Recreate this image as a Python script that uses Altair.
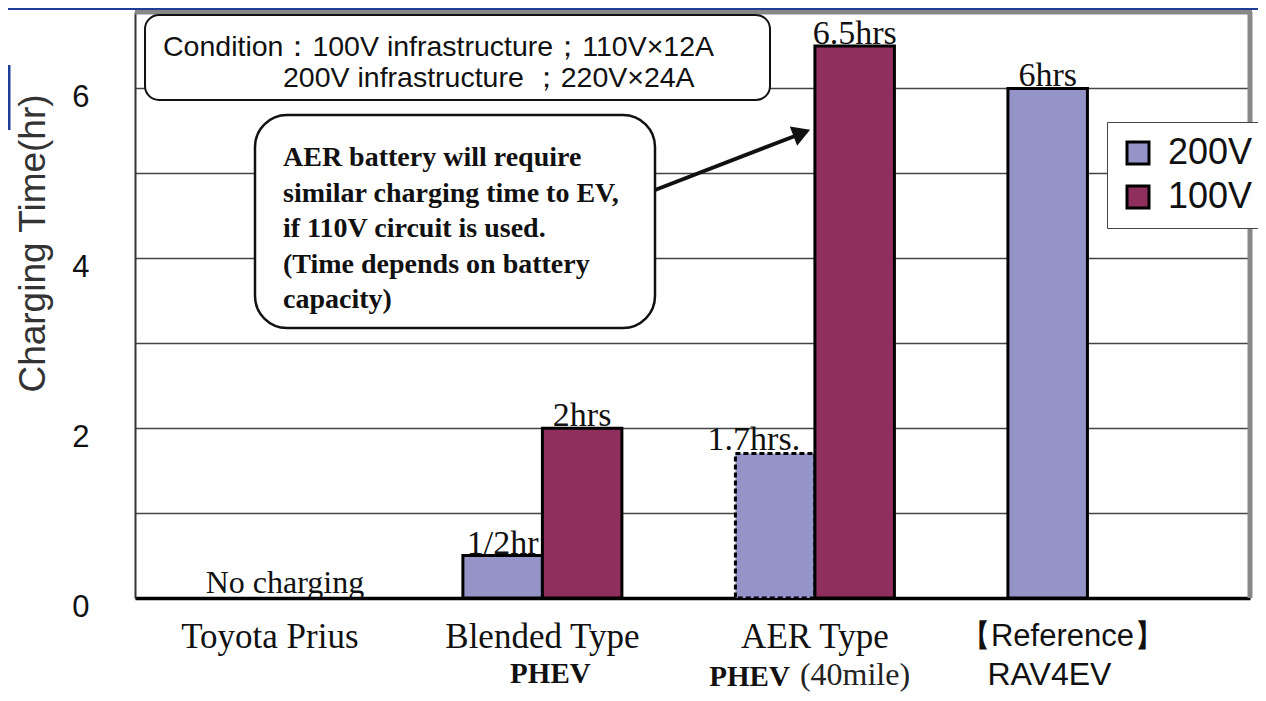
import altair as alt
import pandas as pd

# ---------------- data ----------------
groups = ["Toyota Prius", "Blended Type", "AER Type", "RAV4EV"]
series = ["200V", "100V"]
colors = ["#9494c8", "#8e2f5e"]

bar_group = ["Blended Type", "Blended Type", "AER Type", "AER Type", "RAV4EV"]
bar_series = ["200V", "100V", "200V", "100V", "200V"]
bar_hours = [0.5, 2.0, 1.7, 6.5, 6.0]
bar_labels = ["1/2hr", "2hrs", "1.7hrs.", "6.5hrs", "6hrs"]
bar_outline = ["solid", "solid", "dotted", "solid", "solid"]

name_line1 = ["Toyota Prius", "Blended Type", "AER Type", "【Reference】"]
y_ticks = [0, 1, 2, 3, 4, 5, 6]

condition_1 = "Condition：100V infrastructure；110V×12A"
condition_2 = "200V infrastructure ；220V×24A"
callout_lines = [
    "AER battery will require",
    "similar charging time to EV,",
    "if 110V circuit is used.",
    "(Time depends on battery",
    "capacity)",
]

bars_df = pd.DataFrame({
    "group": bar_group, "series": bar_series, "hours": bar_hours,
    "label": bar_labels, "outline": bar_outline,
})
names_df = pd.DataFrame({"group": groups, "line1": name_line1})
one = pd.DataFrame({"k": [0]})

W, H = 1115, 586
SERIF = "Liberation Serif"
SANS = "Liberation Sans"
L1 = 636  # baseline of first line of category names
L2 = 673  # baseline of second line of category names

xscale = alt.Scale(domain=groups, paddingInner=0.4165, paddingOuter=0.254, align=0.4)
xoff = alt.XOffset("series:N", scale=alt.Scale(domain=series, paddingInner=0, paddingOuter=0))
yscale = alt.Scale(domain=[0, 6.9], nice=False, zero=True)

bars = alt.Chart(bars_df).mark_bar(stroke="black", strokeWidth=3).encode(
    x=alt.X("group:N", scale=xscale,
            axis=alt.Axis(labels=False, ticks=False, title=None, grid=False,
                          domainColor="black", domainWidth=3.5)),
    xOffset=xoff,
    y=alt.Y("hours:Q", scale=yscale,
            axis=alt.Axis(values=y_ticks, grid=True, gridColor="#444", gridWidth=1.5,
                          ticks=False, domainColor="#333", domainWidth=2, format="d",
                          labelExpr="datum.value % 2 == 0 ? datum.label : ''",
                          labelFont=SANS, labelFontSize=31, labelColor="#111",
                          labelPadding=46, labelOffset=9,
                          title="Charging Time(hr)", titleFont=SANS, titleFontSize=37,
                          titleFontWeight="normal", titleColor="#333",
                          titleAngle=270, titleX=-102, titleY=231,
                          titleAlign="center", titleBaseline="middle")),
    color=alt.Color("series:N", scale=alt.Scale(domain=series, range=colors),
                    legend=alt.Legend(title=None, orient="none", legendX=972, legendY=110,
                                      symbolType="square", symbolSize=484,
                                      symbolStrokeColor="black", symbolStrokeWidth=3,
                                      labelFont=SANS, labelFontSize=36, labelColor="#111",
                                      labelOffset=12, rowPadding=8, padding=13,
                                      fillColor="white", strokeColor="#444")),
    strokeDash=alt.StrokeDash("outline:N",
                              scale=alt.Scale(domain=["solid", "dotted"], range=[[1, 0], [5, 3]]),
                              legend=None),
)

lab_common = dict(font=SERIF, fontSize=34, baseline="alphabetic", color="#111")
bar_text = alt.Chart(bars_df).transform_filter("datum.label != '1.7hrs.'").mark_text(
    align="center", dy=-2, **lab_common
).encode(x=alt.X("group:N", scale=xscale), xOffset=xoff, y=alt.Y("hours:Q", scale=yscale),
         text="label:N")
bar_text_r = alt.Chart(bars_df).transform_filter("datum.label == '1.7hrs.'").mark_text(
    align="right", dx=25, dy=-4, **lab_common
).encode(x=alt.X("group:N", scale=xscale), xOffset=xoff, y=alt.Y("hours:Q", scale=yscale),
         text="label:N")

no_charge = alt.Chart(names_df).transform_filter("datum.group == 'Toyota Prius'").mark_text(
    font=SERIF, fontSize=32, baseline="alphabetic", dx=15, dy=-3, color="#111"
).encode(x=alt.X("group:N", scale=xscale), y=alt.value(H - 2), text=alt.value("No charging"))

# category names below the axis
name1 = alt.Chart(names_df).transform_filter("datum.group != 'RAV4EV'").mark_text(
    font=SERIF, fontSize=35, baseline="alphabetic", color="#111"
).encode(x=alt.X("group:N", scale=xscale), y=alt.value(L1), text="line1:N")
name1_ref = alt.Chart(names_df).transform_filter("datum.group == 'RAV4EV'").mark_text(
    font=SANS, fontSize=31, baseline="alphabetic", dx=-25, color="#111"
).encode(x=alt.X("group:N", scale=xscale), y=alt.value(L1 - 2), text="line1:N")
phev_b = alt.Chart(names_df).transform_filter("datum.group == 'Blended Type'").mark_text(
    font=SERIF, fontSize=29, fontWeight="bold", baseline="alphabetic", dx=8, color="#111"
).encode(x=alt.X("group:N", scale=xscale), y=alt.value(L2 - 2), text=alt.value("PHEV"))
phev_a = alt.Chart(names_df).transform_filter("datum.group == 'AER Type'").mark_text(
    font=SERIF, fontSize=29, fontWeight="bold", baseline="alphabetic", align="right",
    dx=-25, color="#111"
).encode(x=alt.X("group:N", scale=xscale), y=alt.value(L2 + 1), text=alt.value("PHEV"))
mile_a = alt.Chart(names_df).transform_filter("datum.group == 'AER Type'").mark_text(
    font=SERIF, fontSize=32, baseline="alphabetic", align="left", dx=-15, color="#222"
).encode(x=alt.X("group:N", scale=xscale), y=alt.value(L2), text=alt.value("(40mile)"))
rav = alt.Chart(names_df).transform_filter("datum.group == 'RAV4EV'").mark_text(
    font=SANS, fontSize=32, baseline="alphabetic", dx=-38, color="#111"
).encode(x=alt.X("group:N", scale=xscale), y=alt.value(L2), text=alt.value("RAV4EV"))

# frame (top and right gray border)
top_border = alt.Chart(one).mark_rule(color="#888", strokeWidth=5).encode(
    x=alt.value(0), x2=alt.value(W + 2), y=alt.value(0))
right_border = alt.Chart(one).mark_rule(color="#888", strokeWidth=5).encode(
    x=alt.value(W), y=alt.value(0), y2=alt.value(H))

# slide decorations
blue_top = alt.Chart(one).mark_rule(color="#1f3c96", strokeWidth=2).encode(
    x=alt.value(-127), x2=alt.value(W + 8), y=alt.value(-3))
blue_left = alt.Chart(one).mark_rule(color="#1f3c96", strokeWidth=3).encode(
    x=alt.value(-126), y=alt.value(53), y2=alt.value(118))

# condition box
cond_box = alt.Chart(one).mark_rect(fill="white", stroke="#111", strokeWidth=2,
                                    cornerRadius=14).encode(
    x=alt.value(10), x2=alt.value(635), y=alt.value(3), y2=alt.value(88))
cond_t1 = alt.Chart(one).mark_text(font=SANS, fontSize=28.5, align="left", baseline="middle",
                                   color="#111").encode(
    x=alt.value(28), y=alt.value(35), text=alt.value(condition_1))
cond_t2 = alt.Chart(one).mark_text(font=SANS, fontSize=28.5, align="left", baseline="middle",
                                   color="#111").encode(
    x=alt.value(148), y=alt.value(66), text=alt.value(condition_2))

# callout box with arrow
call_box = alt.Chart(one).mark_rect(fill="white", stroke="#111", strokeWidth=2.5,
                                    cornerRadius=32).encode(
    x=alt.value(120), x2=alt.value(520), y=alt.value(103), y2=alt.value(316))
call_text = alt.Chart(one).mark_text(font=SERIF, fontSize=28, fontWeight="bold",
                                     align="left", baseline="alphabetic", lineHeight=35.5,
                                     color="#111", text=callout_lines).encode(
    x=alt.value(148), y=alt.value(154))
arrow_line = alt.Chart(one).mark_rule(color="#111", strokeWidth=4).encode(
    x=alt.value(520), y=alt.value(178), x2=alt.value(660), y2=alt.value(124))
arrow_head = alt.Chart(one).mark_point(shape="triangle", filled=True, color="#111",
                                       size=420, opacity=1, angle=69).encode(
    x=alt.value(664), y=alt.value(122))

chart = alt.layer(
    bars, bar_text, bar_text_r, no_charge,
    name1, name1_ref, phev_b, phev_a, mile_a, rav,
    top_border, right_border, blue_top, blue_left,
    cond_box, cond_t1, cond_t2,
    call_box, call_text, arrow_line, arrow_head,
).properties(
    width=W, height=H,
    autosize=alt.AutoSizeParams(type="none"),
    padding={"left": 127, "top": 4, "right": 8, "bottom": 95},
    background="white",
).configure_view(stroke=None)

chart.save("out.html", embed_options={"renderer": "svg", "actions": False})
